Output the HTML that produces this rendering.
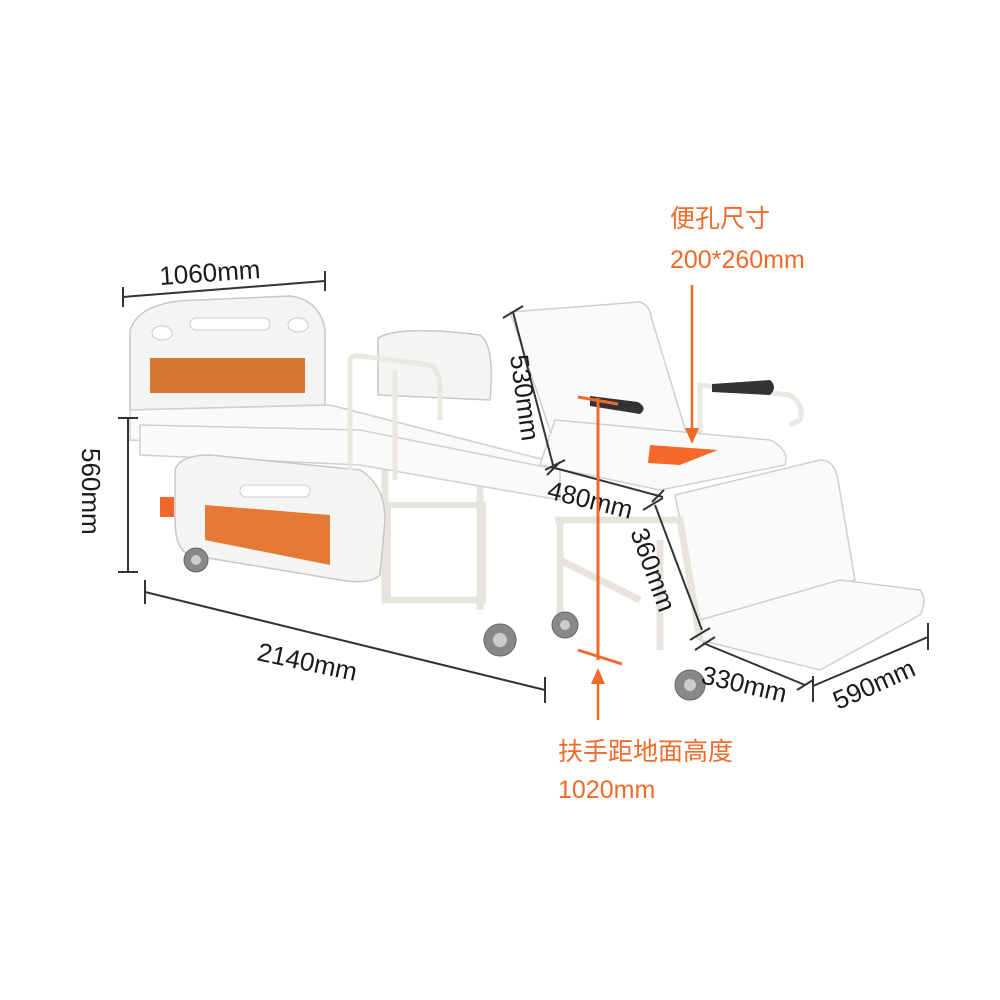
<!DOCTYPE html>
<html><head><meta charset="utf-8"><style>
html,body{margin:0;padding:0;background:#fff;width:1000px;height:1000px;overflow:hidden}
svg{display:block}
.t{font-family:"Liberation Sans","Noto Sans CJK SC",sans-serif;font-size:26px;fill:#1a1a1a}
.o{font-family:"Liberation Sans","Noto Sans CJK SC",sans-serif;font-size:25px;fill:#f06a2a}
.d{stroke:#333;stroke-width:2;fill:none}
.f{fill:#f4f4f2;stroke:#c8c8c4;stroke-width:1.5}
.w{fill:#fafafa;stroke:#d0d0cc;stroke-width:1.5}
.fr{fill:none;stroke:#e6e4dc;stroke-width:7}
</style></head><body>
<svg width="1000" height="1000" viewBox="0 0 1000 1000">
<path class="fr" d="M385 470 V600 H485 V600 M480 480 V610 M360 470 V580 M560 520 V620 M660 540 V650"/>
<rect x="388" y="505" width="95" height="95" fill="none" stroke="#e6e4dc" stroke-width="6"/>
<path class="f" d="M378 338 Q400 325 480 335 Q495 345 490 400 L378 395 Z"/>
<path class="f" d="M130 330 Q140 300 200 300 L290 296 Q320 300 325 330 L325 405 L130 410 Z"/>
<rect x="150" y="358" width="155" height="35" fill="#d67734"/>
<g fill="#fff" stroke="#ccc"><ellipse cx="162" cy="333" rx="10" ry="7"/><rect x="190" y="318" width="80" height="12" rx="6"/><ellipse cx="298" cy="325" rx="10" ry="7"/></g>
<path class="w" d="M130 410 L330 405 L545 460 L545 490 L330 450 L130 440 Z"/>
<path class="w" d="M140 425 L360 430 L560 470 L560 500 L360 465 L140 455 Z"/>
<path class="f" d="M175 470 Q180 455 210 455 L360 470 Q385 485 385 520 L380 575 Q370 585 340 580 L190 555 Q175 550 175 520 Z"/>
<path d="M205 505 L330 515 L330 565 L205 540 Z" fill="#e57a35"/>
<g fill="#fff" stroke="#ccc"><rect x="240" y="485" width="70" height="12" rx="6"/></g>
<rect x="160" y="497" width="14" height="20" fill="#ef6a2a"/>
<path class="fr" style="stroke:#eae8e0;stroke-width:5" d="M350 470 V360 Q350 355 360 356 L430 365 Q440 370 440 390 L440 420 M395 480 V370"/>
<path class="fr" style="stroke:#eae8e0;stroke-width:5" d="M560 460 V400 Q565 395 575 397 L650 410 Q660 420 655 450"/>
<path class="fr" style="stroke:#eae8e0;stroke-width:5" d="M700 450 V385 L790 395 Q805 405 800 420 L790 425"/>
<path class="w" d="M510 312 L640 302 Q650 305 652 320 L690 445 L560 460 Z"/>
<path d="M590 396 L638 402 Q648 408 640 414 L590 406 Z" fill="#333"/>
<path class="w" d="M555 420 L770 440 Q790 450 785 465 L660 490 L540 465 Z"/>
<path d="M650 445 L718 450 L680 465 L648 463 Z" fill="#f5692a"/>
<path d="M712 384 L770 380 Q778 387 770 395 L712 392 Z" fill="#333"/>
<path class="w" d="M675 495 L820 460 Q835 460 838 480 L855 580 L720 620 L700 620 Z"/>
<path class="w" d="M700 620 L840 580 L920 590 Q928 600 920 615 L820 670 L700 640 Z"/>
<path class="fr" d="M555 520 L680 520 L700 640 M560 560 L640 600"/>
<g fill="#888" stroke="#666">
<circle cx="196" cy="560" r="12"/><circle cx="500" cy="640" r="16"/><circle cx="565" cy="625" r="13"/><circle cx="690" cy="685" r="15"/>
</g>
<g fill="#ccc"><circle cx="196" cy="560" r="5"/><circle cx="500" cy="640" r="7"/><circle cx="565" cy="625" r="5"/><circle cx="690" cy="685" r="6"/></g>
<path class="d" d="M123 297 L325 281 M123 287 V307 M325 271 V291"/>
<text class="t" transform="translate(160 285) rotate(-4)">1060mm</text>
<path class="d" d="M128 418 V572 M118 418 H138 M118 572 H138"/>
<text class="t" transform="translate(82 448) rotate(90)">560mm</text>
<path class="d" d="M145 592 L545 690 M145 580 V604 M545 677 V703"/>
<text class="t" transform="translate(256 660) rotate(12)">2140mm</text>
<path class="d" d="M513 312 L553 465 M503 318 L523 306 M545 470 L565 460"/>
<text class="t" transform="translate(510 356) rotate(82)">530mm</text>
<path class="d" d="M551 467 L663 497 M547 475 L560 462 M652 502 L664 490"/>
<text class="t" transform="translate(546 498) rotate(14)">480mm</text>
<path class="d" d="M655 505 L702 630 M643 510 L663 498 M690 640 L710 628"/>
<text class="t" transform="translate(630 532) rotate(70)">360mm</text>
<path class="d" d="M703 643 L805 685 M695 650 L715 637 M797 690 L813 680"/>
<text class="t" transform="translate(700 683) rotate(13)">330mm</text>
<path class="d" d="M813 686 L928 637 M813 676 V702 M928 623 V650"/>
<text class="t" transform="translate(838 710) rotate(-24)">590mm</text>
<text class="o" x="670" y="227">便孔尺寸</text>
<text class="o" x="670" y="268">200*260mm</text>
<path d="M692 285 V440" stroke="#f06a2a" stroke-width="2.5"/>
<path d="M685 428 L692 444 L699 428 Z" fill="#f06a2a"/>
<path d="M598 398 V660 M578 397 L618 404 M578 650 L622 664" stroke="#f06a2a" stroke-width="3" fill="none"/>
<path d="M598 720 V676" stroke="#f06a2a" stroke-width="2.5"/>
<path d="M591 684 L598 668 L605 684 Z" fill="#f06a2a"/>
<text class="o" x="558" y="760">扶手距地面高度</text>
<text class="o" x="558" y="798">1020mm</text>
</svg>
</body></html>
